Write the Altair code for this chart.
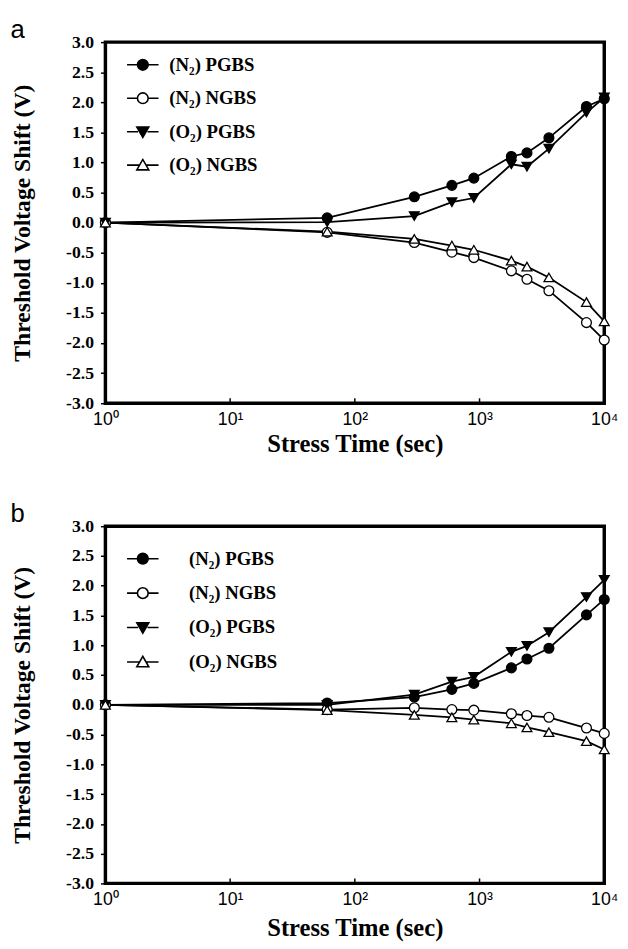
import altair as alt
import pandas as pd

# ---------------- data ----------------
times = [1, 60, 300, 600, 900, 1800, 2400, 3600, 7200, 10000]
series = ["(N₂) PGBS", "(N₂) NGBS", "(O₂) PGBS", "(O₂) NGBS"]
x_tick_values = [1, 10, 100, 1000, 10000]
inner_ticks = [10, 100, 1000]
y_tick_values = [-3.0, -2.5, -2.0, -1.5, -1.0, -0.5, 0.0, 0.5, 1.0, 1.5, 2.0, 2.5, 3.0]

# panel a
a_n2_pgbs = [0.0, 0.08, 0.43, 0.62, 0.74, 1.10, 1.16, 1.41, 1.93, 2.06]
a_n2_ngbs = [0.0, -0.16, -0.33, -0.49, -0.58, -0.80, -0.94, -1.13, -1.66, -1.95]
a_o2_pgbs = [0.0, 0.01, 0.11, 0.34, 0.41, 0.97, 0.93, 1.23, 1.83, 2.08]
a_o2_ngbs = [0.0, -0.15, -0.27, -0.38, -0.45, -0.63, -0.73, -0.91, -1.32, -1.64]

# panel b
b_n2_pgbs = [0.0, 0.03, 0.13, 0.26, 0.36, 0.62, 0.77, 0.95, 1.51, 1.77]
b_n2_ngbs = [0.0, -0.08, -0.05, -0.08, -0.09, -0.15, -0.18, -0.21, -0.39, -0.48]
b_o2_pgbs = [0.0, 0.0, 0.17, 0.39, 0.47, 0.89, 0.99, 1.22, 1.81, 2.10]
b_o2_ngbs = [0.0, -0.09, -0.17, -0.21, -0.25, -0.31, -0.38, -0.46, -0.61, -0.75]

shapes = ["circle", "circle", "triangle-down", "triangle-up"]
fills = ["black", "white", "black", "white"]
strokes = ["black", "black", "black", "black"]
legend_shapes = [
    "M-1,0L-0.34,0M0.34,0L1,0M-0.34,0A0.34,0.34,0,1,1,0.34,0A0.34,0.34,0,1,1,-0.34,0Z",
    "M-1,0L-0.34,0M0.34,0L1,0M-0.34,0A0.34,0.34,0,1,1,0.34,0A0.34,0.34,0,1,1,-0.34,0Z",
    "M-1,0L-0.3,0M0.3,0L1,0M-0.38,-0.3L0.38,-0.3L0,0.36Z",
    "M-1,0L-0.21,0M0.21,0L1,0M-0.38,0.3L0.38,0.3L0,-0.36Z",
]


def make_df(cols):
    rows = []
    for name, vals in zip(series, cols):
        for t, v in zip(times, vals):
            rows.append({"series": name, "key": name, "time": t, "value": v})
    return pd.DataFrame(rows)


df_a = make_df([a_n2_pgbs, a_n2_ngbs, a_o2_pgbs, a_o2_ngbs])
df_b = make_df([b_n2_pgbs, b_n2_ngbs, b_o2_pgbs, b_o2_ngbs])

SERIF = "Liberation Serif"
SANS = "Liberation Sans"

x_label_expr = (
    "datum.value == 1 ? '10⁰' : datum.value == 10 ? '10¹' : "
    "datum.value == 100 ? '10²' : datum.value == 1000 ? '10³' : '10⁴'"
)

X_SCALE = alt.Scale(type="log", domain=[1, 10000])
Y_SCALE = alt.Scale(domain=[-3, 3])


def x_axis(title_pad, label_pad):
    return alt.Axis(
        values=x_tick_values,
        labelExpr=x_label_expr,
        ticks=False,
        domain=False,
        grid=False,
        labelFlush=False,
        labelOverlap=False,
        labelFont=SANS,
        labelFontSize=18,
        labelColor="black",
        labelPadding=label_pad,
        title="Stress Time (sec)",
        titleFont=SERIF,
        titleFontSize=25,
        titleFontWeight="bold",
        titleColor="black",
        titlePadding=title_pad,
    )


Y_AXIS = alt.Axis(
    values=y_tick_values,
    labelExpr="replace(format(datum.value, '.1f'), '−', '-')",
    domain=False,
    grid=False,
    ticks=True,
    tickSize=5,
    tickWidth=1.5,
    tickColor="black",
    labelFont=SERIF,
    labelFontSize=18,
    labelFontWeight="bold",
    labelColor="black",
    labelPadding=7,
    labelOverlap=False,
    title="Threshold Voltage Shift (V)",
    titleFont=SERIF,
    titleFontSize=24,
    titleFontWeight="bold",
    titleColor="black",
    titlePadding=32,
)


def panel(df, letter, height, legend_x, legend_y, label_offset, row_pad, title_offset,
          x_title_pad, x_label_pad):
    x_enc = alt.X("time:Q", scale=X_SCALE, axis=x_axis(x_title_pad, x_label_pad))
    y_enc = alt.Y("value:Q", scale=Y_SCALE, axis=Y_AXIS)
    base = alt.Chart(df).encode(x=x_enc, y=y_enc)

    lines = base.mark_line(color="black", strokeWidth=1.8).encode(detail="series:N")

    points = base.mark_point(filled=True, stroke="black", strokeWidth=1.3, size=100, opacity=1).encode(
        shape=alt.Shape("series:N", scale=alt.Scale(domain=series, range=shapes), legend=None),
        fill=alt.Fill("series:N", scale=alt.Scale(domain=series, range=fills), legend=None),
    )

    legend = alt.Legend(
        title=None,
        orient="none",
        legendX=legend_x,
        legendY=legend_y,
        padding=0,
        symbolSize=1024,
        symbolStrokeWidth=1.6,
        symbolOpacity=1,
        labelFont=SERIF,
        labelFontSize=19,
        labelFontWeight="bold",
        labelColor="black",
        labelOffset=label_offset,
        rowPadding=row_pad,
    )
    legend_layer = (
        base.transform_filter("datum.value > 100")
        .mark_point(filled=True, strokeWidth=1.6, opacity=1)
        .encode(
            shape=alt.Shape("key:N", scale=alt.Scale(domain=series, range=legend_shapes), legend=legend),
            fill=alt.Fill("key:N", scale=alt.Scale(domain=series, range=fills), legend=legend),
            stroke=alt.Stroke("key:N", scale=alt.Scale(domain=series, range=strokes), legend=legend),
        )
    )

    ticks = (
        alt.Chart(pd.DataFrame({"time": inner_ticks}))
        .mark_rule(color="black", strokeWidth=1.5)
        .encode(
            x=x_enc,
            y=alt.value(height),
            y2=alt.value(height - 5),
        )
    )

    return (
        alt.layer(lines, points, ticks, legend_layer)
        .resolve_scale(shape="independent", fill="independent", stroke="independent")
        .properties(
            width=507,
            height=height,
            title=alt.TitleParams(
                text=letter,
                anchor="start",
                frame="bounds",
                font=SANS,
                fontSize=26,
                fontWeight="normal",
                color="black",
                offset=title_offset,
            ),
        )
    )


pa = panel(df_a, "a", 367, 21, 6, 10, 7, -10, 3, 8)
pb = panel(df_b, "b", 363, 21, 16, 30, 8, -10, 8, 7)

chart = (
    alt.vconcat(pa, pb, spacing=42)
    .properties(padding=0, background="white")
    .configure_view(stroke="black", strokeWidth=3.5)
)

chart.save("out.html", embed_options={"renderer": "svg", "actions": False})
